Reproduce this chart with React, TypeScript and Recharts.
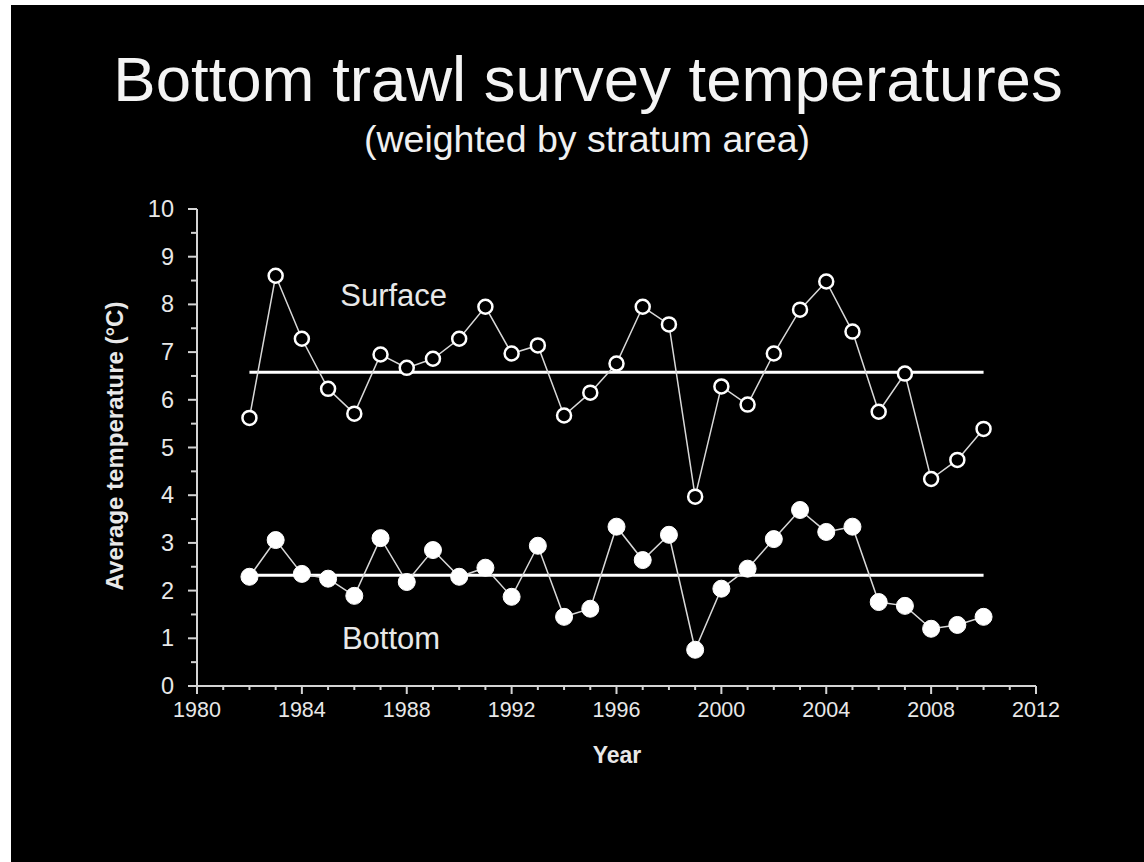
import React from 'react';
import { LineChart, Line, XAxis, YAxis, ReferenceLine, ReferenceDot } from 'recharts';

const years = [1982, 1983, 1984, 1985, 1986, 1987, 1988, 1989, 1990, 1991, 1992, 1993, 1994, 1995, 1996, 1997, 1998, 1999, 2000, 2001, 2002, 2003, 2004, 2005, 2006, 2007, 2008, 2009, 2010];
const surfaceTemps = [5.62, 8.6, 7.28, 6.23, 5.71, 6.95, 6.67, 6.86, 7.28, 7.95, 6.97, 7.14, 5.67, 6.15, 6.76, 7.95, 7.58, 3.97, 6.28, 5.9, 6.97, 7.89, 8.48, 7.43, 5.75, 6.55, 4.34, 4.74, 5.39];
const bottomTemps = [2.29, 3.06, 2.35, 2.25, 1.89, 3.1, 2.18, 2.85, 2.29, 2.48, 1.87, 2.94, 1.45, 1.62, 3.34, 2.64, 3.17, 0.76, 2.04, 2.46, 3.08, 3.69, 3.23, 3.34, 1.76, 1.68, 1.2, 1.28, 1.45];
const surfaceMean = 6.58;
const bottomMean = 2.32;
const meanStart = 1982;
const meanEnd = 2010;

const xTicks = [1980, 1981, 1982, 1983, 1984, 1985, 1986, 1987, 1988, 1989, 1990, 1991, 1992, 1993, 1994, 1995, 1996, 1997, 1998, 1999, 2000, 2001, 2002, 2003, 2004, 2005, 2006, 2007, 2008, 2009, 2010, 2011, 2012];
const xLabelTicks = [1980, 1984, 1988, 1992, 1996, 2000, 2004, 2008, 2012];
const yTicks = [0, 0.5, 1, 1.5, 2, 2.5, 3, 3.5, 4, 4.5, 5, 5.5, 6, 6.5, 7, 7.5, 8, 8.5, 9, 9.5, 10];
const yLabelTicks = [0, 1, 2, 3, 4, 5, 6, 7, 8, 9, 10];

const data = years.map((year, i) => ({ year, surface: surfaceTemps[i], bottom: bottomTemps[i] }));

const FONT = '"Liberation Sans", Arial, sans-serif';
const AXIS = '#d4d4d4';
const TEXT = '#e8e8e8';

const XTick = (props: any) => {
  const { x, y, payload } = props;
  const major = xLabelTicks.includes(payload.value);
  return (
    <g>
      <line x1={x} x2={x} y1={y} y2={y + (major ? 8 : 4)} stroke={AXIS} strokeWidth={2} />
      {major && (
        <text x={x} y={y + 31} textAnchor="middle" fill={TEXT} fontSize={21.5} fontFamily={FONT}>
          {payload.value}
        </text>
      )}
    </g>
  );
};

const YTick = (props: any) => {
  const { x, y, payload } = props;
  const major = yLabelTicks.includes(payload.value);
  return (
    <g>
      <line x1={x - (major ? 9 : 6)} x2={x} y1={y} y2={y} stroke={AXIS} strokeWidth={2} />
      {major && (
        <text x={x - 23} y={y + 8} textAnchor="end" fill={TEXT} fontSize={23.5} fontFamily={FONT}>
          {payload.value}
        </text>
      )}
    </g>
  );
};

const SurfaceDot = (props: any) => {
  const { cx, cy, index } = props;
  return <circle key={`s-${index}`} cx={cx} cy={cy} r={7} fill="#000" stroke="#fff" strokeWidth={2.5} />;
};

const BottomDot = (props: any) => {
  const { cx, cy, index } = props;
  return <circle key={`b-${index}`} cx={cx} cy={cy} r={8.5} fill="#fff" stroke="#fff" strokeWidth={1} />;
};

export default function App() {
  return (
    <div style={{ position: 'absolute', left: 0, top: 0, width: 1144, height: 862, background: '#fff', overflow: 'hidden', fontFamily: FONT }}>
      <div style={{ position: 'absolute', left: 11, top: 5, width: 1133, height: 857, background: '#000' }} />
      <div style={{ position: 'absolute', left: 0, top: 0 }}>
        <LineChart width={1144} height={862} data={data} margin={{ top: 209, right: 108, bottom: 146, left: 137 }}>
          <XAxis
            dataKey="year"
            type="number"
            domain={[1980, 2012]}
            ticks={xTicks}
            interval={0}
            tickLine={false}
            tickSize={0}
            tickMargin={0}
            height={30}
            axisLine={{ stroke: AXIS, strokeWidth: 2 }}
            tick={<XTick />}
          />
          <YAxis
            type="number"
            domain={[0, 10]}
            ticks={yTicks}
            interval={0}
            tickLine={false}
            tickSize={0}
            tickMargin={0}
            width={60}
            axisLine={{ stroke: AXIS, strokeWidth: 2 }}
            tick={<YTick />}
          />
          <ReferenceLine segment={[{ x: meanStart, y: surfaceMean }, { x: meanEnd, y: surfaceMean }]} stroke="#fff" strokeWidth={3} />
          <ReferenceLine segment={[{ x: meanStart, y: bottomMean }, { x: meanEnd, y: bottomMean }]} stroke="#fff" strokeWidth={3} />
          <Line dataKey="surface" stroke="#d8d8d8" strokeWidth={1.5} dot={SurfaceDot} isAnimationActive={false} />
          <Line dataKey="bottom" stroke="#d8d8d8" strokeWidth={1.5} dot={BottomDot} isAnimationActive={false} />
          <ReferenceDot x={1987.5} y={8.2} r={0} stroke="none" fill="none"
            label={{ value: 'Surface', position: 'center', fill: TEXT, fontSize: 31, fontFamily: FONT }} />
          <ReferenceDot x={1987.4} y={1.0} r={0} stroke="none" fill="none"
            label={{ value: 'Bottom', position: 'center', fill: TEXT, fontSize: 31, fontFamily: FONT }} />
        </LineChart>
      </div>
      <svg width={1144} height={862} style={{ position: 'absolute', left: 0, top: 0, pointerEvents: 'none' }}>
        <text x={588} y={101} textAnchor="middle" fill="#f4f4f4" fontSize={63.5} fontFamily={FONT}>
          Bottom trawl survey temperatures
        </text>
        <text x={587} y={152} textAnchor="middle" fill="#f0f0f0" fontSize={37.5} fontFamily={FONT}>
          (weighted by stratum area)
        </text>
        <text transform="translate(123,446) rotate(-90)" textAnchor="middle" fill={TEXT} fontSize={24} fontWeight="bold" fontFamily={FONT}>
          Average temperature (°C)
        </text>
        <text x={617} y={763} textAnchor="middle" fill={TEXT} fontSize={23} fontWeight="bold" fontFamily={FONT}>
          Year
        </text>
      </svg>
    </div>
  );
}
